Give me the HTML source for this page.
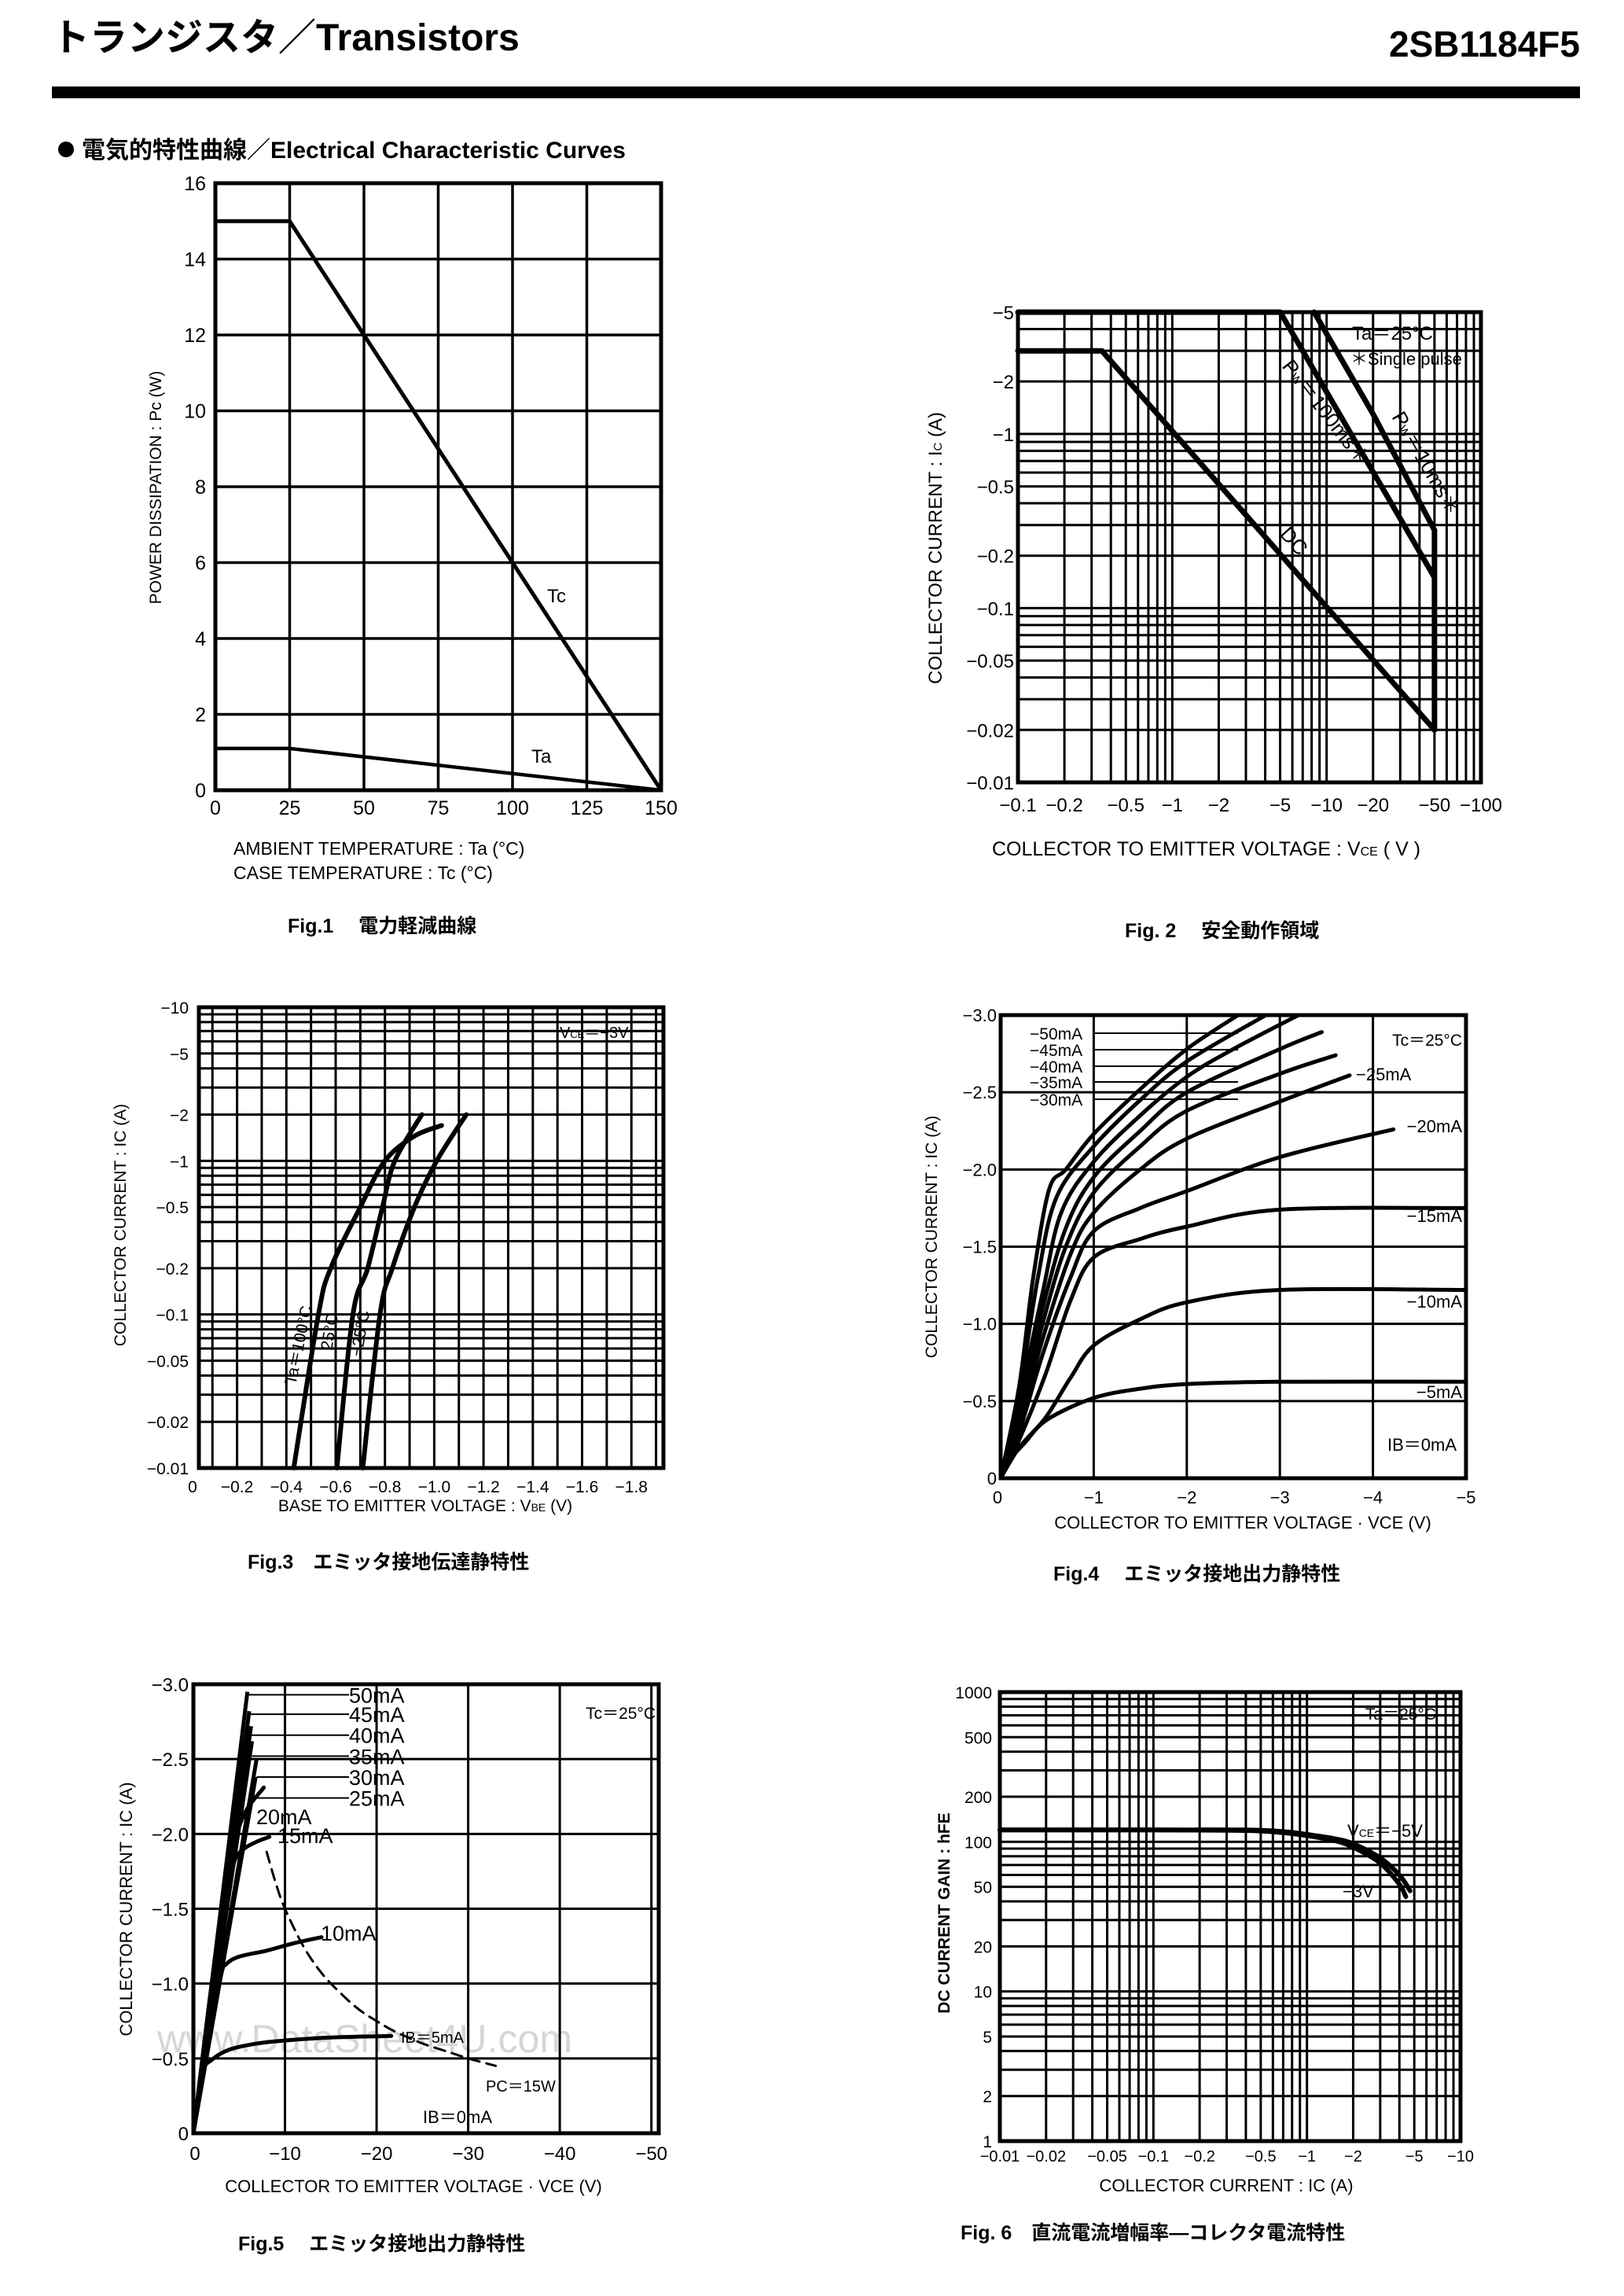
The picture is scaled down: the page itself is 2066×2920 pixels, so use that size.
<!DOCTYPE html>
<html><head><meta charset="utf-8">
<style>
html,body{margin:0;padding:0;background:#fff;}
svg{display:block;}
text{font-family:"Liberation Sans","Noto Sans CJK JP",sans-serif;fill:#000;}
.b{font-weight:bold;}
</style></head>
<body>
<svg id="page" xmlns="http://www.w3.org/2000/svg" width="2066" height="2920" viewBox="0 0 2066 2920">
<rect x="0" y="0" width="2066" height="2920" fill="#fff"/>
<text x="66" y="64" font-size="48" class="b">トランジスタ／Transistors</text>
<text x="2010" y="72" font-size="46" class="b" text-anchor="end">2SB1184F5</text>
<rect x="66" y="110" width="1944" height="15" fill="#000"/>
<circle cx="84" cy="190" r="10" fill="#000"/>
<text x="104" y="201" font-size="30" class="b">電気的特性曲線／Electrical Characteristic Curves</text>

<!-- Fig1 static text -->
<text transform="translate(205,620) rotate(-90)" font-size="21" text-anchor="middle">POWER DISSIPATION : Pc (W)</text>
<text x="297" y="1087" font-size="23">AMBIENT  TEMPERATURE : Ta  (°C)</text>
<text x="297" y="1118" font-size="23">CASE  TEMPERATURE : Tc  (°C)</text>
<text x="366" y="1186" font-size="25" class="b">Fig.1　 電力軽減曲線</text>
<text x="696" y="766" font-size="24">Tc</text>
<text x="676" y="970" font-size="24">Ta</text>

<!-- Fig2 static text -->
<text transform="translate(1198,697) rotate(-90)" font-size="24" text-anchor="middle">COLLECTOR CURRENT : I<tspan font-size="15">C</tspan> (A)</text>
<text x="1262" y="1088" font-size="25">COLLECTOR  TO  EMITTER  VOLTAGE : V<tspan font-size="16">CE</tspan> ( V )</text>
<text x="1431" y="1192" font-size="25" class="b">Fig. 2　 安全動作領域</text>
<rect x="1701" y="400" width="183" height="84" fill="#fff"/>
<text x="1720" y="432" font-size="24">Ta＝25°C</text>
<text x="1718" y="464" font-size="22">＊Single  pulse</text>
<text transform="translate(1630,466) rotate(52)" font-size="26">P<tspan font-size="15">W</tspan>＝100ms＊</text>
<text transform="translate(1770,530) rotate(60)" font-size="26">P<tspan font-size="15">W</tspan>＝10ms＊</text>
<text transform="translate(1627,680) rotate(48)" font-size="26">DC</text>

<!-- Fig3 static text -->
<text transform="translate(160,1558) rotate(-90)" font-size="21" text-anchor="middle">COLLECTOR CURRENT : IC (A)</text>
<text x="541" y="1922" font-size="21" text-anchor="middle">BASE TO EMITTER VOLTAGE : V<tspan font-size="14">BE</tspan> (V)</text>
<text x="315" y="1995" font-size="25" class="b">Fig.3　エミッタ接地伝達静特性</text>
<rect x="706" y="1300" width="116" height="26" fill="#fff"/>
<text x="712" y="1320" font-size="20">V<tspan font-size="13">CE</tspan>＝−3V</text>
<text transform="translate(376,1762) rotate(-78)" font-size="21">Ta＝100°C</text>
<text transform="translate(422,1718) rotate(-80)" font-size="21">25°C</text>
<text transform="translate(460,1726) rotate(-80)" font-size="21">−25°C</text>

<!-- Fig4 static text -->
<text transform="translate(1192,1573) rotate(-90)" font-size="21" text-anchor="middle">COLLECTOR CURRENT : IC (A)</text>
<text x="1581" y="1944" font-size="22" text-anchor="middle">COLLECTOR TO EMITTER VOLTAGE · VCE (V)</text>
<text x="1340" y="2010" font-size="25" class="b">Fig.4　 エミッタ接地出力静特性</text>
<text x="1860" y="1330" font-size="21" text-anchor="end">Tc＝25°C</text>

<!-- Fig5 static text -->
<text transform="translate(168,2428) rotate(-90)" font-size="22" text-anchor="middle">COLLECTOR CURRENT : IC (A)</text>
<text x="526" y="2788" font-size="22" text-anchor="middle">COLLECTOR TO EMITTER VOLTAGE · VCE (V)</text>
<text x="303" y="2862" font-size="25" class="b">Fig.5　 エミッタ接地出力静特性</text>
<text x="834" y="2186" font-size="21" text-anchor="end">Tc＝25°C</text>
<text x="200" y="2610" font-size="50" fill="#d6d6d6" style="fill:#d6d6d6">www.DataSheet4U.com</text>

<!-- Fig6 static text -->
<text transform="translate(1208,2433) rotate(-90)" font-size="21" text-anchor="middle" class="b">DC CURRENT GAIN : hFE</text>
<text x="1560" y="2787" font-size="22" text-anchor="middle">COLLECTOR CURRENT : IC (A)</text>
<text x="1222" y="2848" font-size="25" class="b">Fig. 6　直流電流増幅率―コレクタ電流特性</text>
<rect x="1730" y="2166" width="100" height="24" fill="#fff"/>
<text x="1827" y="2187" font-size="21" text-anchor="end">Ta＝25°C</text>
<text x="1714" y="2336" font-size="22">V<tspan font-size="14">CE</tspan>＝−5V</text>
<text x="1708" y="2413" font-size="22">−3V</text>

<g id="marks"></g>
</svg>
<script>
// ---------- Fig1 data ----------
const fig1YTicks = [0,2,4,6,8,10,12,14,16];
const fig1XTicks = [0,25,50,75,100,125,150];
const fig1Temp = [0,25,150];
const fig1Tc = [15,15,0];
const fig1Ta = [1.1,1.1,0];
// ---------- Fig2 data ----------
const fig2YTicks = [5,2,1,0.5,0.2,0.1,0.05,0.02,0.01];
const fig2XTicks = [0.1,0.2,0.5,1,2,5,10,20,50,100];
const fig2DcV = [0.1,0.35,50];
const fig2DcI = [3,3,0.02];
const fig2P100V = [0.1,5,50];
const fig2P100I = [5,5,0.15];
const fig2P10V = [8.3,20,50];
const fig2P10I = [5,1.3,0.28];
const fig2LimV = [50,50];
const fig2LimI = [0.28,0.02];
// ---------- Fig3 data ----------
const fig3YTicks = [10,5,2,1,0.5,0.2,0.1,0.05,0.02,0.01];
const fig3XTicks = [0,0.2,0.4,0.6,0.8,1.0,1.2,1.4,1.6,1.8];
const fig3V100 = [0.43,0.53,0.58,0.70,0.80,0.92,1.03];
const fig3I100 = [0.01,0.1,0.2,0.5,1,1.45,1.7];
const fig3V25 = [0.605,0.67,0.73,0.79,0.84,0.95];
const fig3I25 = [0.01,0.1,0.2,0.5,1,2];
const fig3Vm25 = [0.71,0.78,0.83,0.92,1.01,1.13];
const fig3Im25 = [0.01,0.1,0.2,0.5,1,2];
// ---------- Fig4 data ----------
const fig4YTicks = [0,0.5,1.0,1.5,2.0,2.5,3.0];
const fig4XTicks = [0,1,2,3,4,5];
const fig4IbLabels = ['5mA','10mA','15mA','20mA','25mA','30mA','35mA','40mA','45mA','50mA'];
const fig4V5 = [0,0.1,0.26,0.5,1,1.5,2,3,5];
const fig4I5 = [0,0.12,0.23,0.38,0.52,0.58,0.61,0.625,0.625];
const fig4V10 = [0,0.2,0.48,0.75,1,1.5,2,3,5];
const fig4I10 = [0,0.2,0.39,0.65,0.86,1.03,1.14,1.22,1.22];
const fig4V15 = [0,0.2,0.48,0.75,1,1.5,2,3,5];
const fig4I15 = [0,0.25,0.67,1.15,1.43,1.55,1.63,1.74,1.75];
const fig4V20 = [0,0.2,0.45,0.75,1,1.5,2,3,4.22];
const fig4I20 = [0,0.3,0.8,1.3,1.6,1.75,1.86,2.08,2.26];
const fig4V25 = [0,0.2,0.45,0.75,1,1.5,2,3,3.75];
const fig4I25 = [0,0.35,0.9,1.45,1.72,2.0,2.2,2.44,2.61];
const fig4V30 = [0,0.2,0.45,0.7,1,1.5,2,3,3.6];
const fig4I30 = [0,0.4,1.0,1.5,1.85,2.15,2.38,2.62,2.74];
const fig4V35 = [0,0.2,0.45,0.7,1,1.5,2,3,3.45];
const fig4I35 = [0,0.45,1.1,1.62,1.95,2.25,2.5,2.78,2.89];
const fig4V40 = [0,0.2,0.45,0.65,1,1.5,2,2.5,3.2];
const fig4I40 = [0,0.5,1.2,1.72,2.05,2.35,2.6,2.78,3.0];
const fig4V45 = [0,0.2,0.4,0.6,1,1.5,2,2.85];
const fig4I45 = [0,0.55,1.3,1.82,2.15,2.45,2.7,3.0];
const fig4V50 = [0,0.2,0.35,0.52,0.7,1,1.5,2,2.55];
const fig4I50 = [0,0.6,1.3,1.87,2.0,2.23,2.52,2.78,3.0];
// ---------- Fig5 data ----------
const fig5YTicks = [0,0.5,1.0,1.5,2.0,2.5,3.0];
const fig5XTicks = [0,10,20,30,40,50];
const fig5V5 = [0,1,2,4,7,10,15,21.6];
const fig5I5 = [0,0.4,0.49,0.56,0.6,0.62,0.64,0.65];
const fig5V10 = [0,1.5,3,3.6,5,8,11,14];
const fig5I10 = [0,0.55,1.05,1.13,1.18,1.22,1.27,1.31];
const fig5V15 = [0,2,3.8,4.5,5.5,7,8.3];
const fig5I15 = [0,0.9,1.6,1.82,1.9,1.95,1.98];
const fig5V20 = [0,2,4,5,6,7.7];
const fig5I20 = [0,1.0,1.85,2.05,2.18,2.31];
const fig5SteepV = [6.8,6.9,6.4,6.3,6.1,5.9];
const fig5SteepI = [2.38,2.5,2.62,2.72,2.82,2.95];
const fig5SteepLabels = ['25mA','30mA','35mA','40mA','45mA','50mA'];
const fig5LabelI = [2.24,2.38,2.52,2.66,2.8,2.93];
const fig5PcV = [8,9,10,12,14,16,18,20,22,25,28,30,33];
const fig5PcI = [1.88,1.67,1.5,1.25,1.07,0.94,0.83,0.75,0.68,0.6,0.54,0.5,0.45];
// ---------- Fig6 data ----------
const fig6YTicks = [1,2,5,10,20,50,100,200,500,1000];
const fig6XTicks = [0.01,0.02,0.05,0.1,0.2,0.5,1,2,5,10];
const fig6Ic5 = [0.01,0.1,0.4,0.7,1,1.5,2,3,4,4.7];
const fig6H5 = [120,120,120,117,112,105,97,78,60,47];
const fig6Ic3 = [0.01,0.1,0.4,0.7,1,1.5,2,3,4,4.4];
const fig6H3 = [120,120,119,115,110,102,92,72,52,43];

const NS = 'http://www.w3.org/2000/svg';
const root = document.getElementById('marks');

function mk(tag, name, parent) {
  const e = document.createElementNS(NS, tag);
  
  
  (parent || root).appendChild(e);
  return e;
}
function linScale(d0, d1, r0, r1) { return v => r0 + (v - d0) / (d1 - d0) * (r1 - r0); }
function logScale(d0, d1, r0, r1) { const a = Math.log10(d0), b = Math.log10(d1); return v => r0 + (Math.log10(v) - a) / (b - a) * (r1 - r0); }
function line(x1, y1, x2, y2, w, name) {
  const l = mk('line', name);
  l.setAttribute('x1', x1); l.setAttribute('y1', y1); l.setAttribute('x2', x2); l.setAttribute('y2', y2);
  l.setAttribute('stroke', '#000'); l.setAttribute('stroke-width', w);
  return l;
}
function txt(x, y, s, size, anchor, name) {
  const t = mk('text', name);
  t.setAttribute('x', x); t.setAttribute('y', y); t.setAttribute('font-size', size);
  t.setAttribute('text-anchor', anchor);
  t.textContent = s;
  return t;
}
function poly(xs, ys, sx, sy, w, name, dash) {
  const p = mk('polyline', name);
  p.setAttribute('points', xs.map((v, i) => sx(v).toFixed(1) + ',' + sy(ys[i]).toFixed(1)).join(' '));
  p.setAttribute('fill', 'none'); p.setAttribute('stroke', '#000'); p.setAttribute('stroke-width', w);
  p.setAttribute('stroke-linejoin', 'round'); p.setAttribute('stroke-linecap', 'round');
  if (dash) p.setAttribute('stroke-dasharray', dash);
  return p;
}
function smooth(xs, ys, sx, sy, w, name, dash) {
  const pts = xs.map((v, i) => [sx(v), sy(ys[i])]);
  let d = 'M' + pts[0][0].toFixed(1) + ',' + pts[0][1].toFixed(1);
  for (let i = 0; i < pts.length - 1; i++) {
    const p0 = pts[i - 1] || pts[i], p1 = pts[i], p2 = pts[i + 1], p3 = pts[i + 2] || p2;
    const c1 = [p1[0] + (p2[0] - p0[0]) / 6, p1[1] + (p2[1] - p0[1]) / 6];
    const c2 = [p2[0] - (p3[0] - p1[0]) / 6, p2[1] - (p3[1] - p1[1]) / 6];
    d += ' C' + c1.map(n => n.toFixed(1)).join(',') + ' ' + c2.map(n => n.toFixed(1)).join(',') + ' ' + p2.map(n => n.toFixed(1)).join(',');
  }
  const p = mk('path', name);
  p.setAttribute('d', d);
  p.setAttribute('fill', 'none'); p.setAttribute('stroke', '#000'); p.setAttribute('stroke-width', w);
  p.setAttribute('stroke-linecap', 'round');
  if (dash) p.setAttribute('stroke-dasharray', dash);
  return p;
}
function frame(L, T, R, B, w, name) {
  const r = mk('rect', name);
  r.setAttribute('x', L); r.setAttribute('y', T); r.setAttribute('width', R - L); r.setAttribute('height', B - T);
  r.setAttribute('fill', 'none'); r.setAttribute('stroke', '#000'); r.setAttribute('stroke-width', w);
}
function logMinors(d0, d1) {
  const out = [];
  for (let e = Math.floor(Math.log10(d0)); e <= Math.ceil(Math.log10(d1)); e++) {
    for (let m = 1; m <= 9; m++) { const v = m * Math.pow(10, e); if (v >= d0 * 0.999 && v <= d1 * 1.001) out.push(v); }
  }
  return out;
}
const neg = v => (v === 0 ? '0' : '−' + v);

// ===== Fig1 =====
(function () {
  const L = 274, R = 841, T = 233, B = 1005;
  const sx = linScale(0, 150, L, R), sy = linScale(0, 16, B, T);
  fig1XTicks.forEach(v => line(sx(v), T, sx(v), B, 3.5, 'fig1-grid-x'));
  fig1YTicks.forEach(v => line(L, sy(v), R, sy(v), 3.5, 'fig1-grid-y'));
  frame(L, T, R, B, 5, 'fig1-plot-frame');
  fig1YTicks.forEach(v => txt(262, sy(v) + 9, String(v), 25, 'end', 'fig1-y-tick-label'));
  fig1XTicks.forEach(v => txt(sx(v), 1036, String(v), 25, 'middle', 'fig1-x-tick-label'));
  poly(fig1Temp, fig1Tc, sx, sy, 5, 'fig1-tc-curve');
  poly(fig1Temp, fig1Ta, sx, sy, 4.5, 'fig1-ta-curve');
})();

// ===== Fig2 =====
(function () {
  const L = 1295, R = 1884, T = 397, B = 995;
  const sx = logScale(0.1, 100, L, R), sy = logScale(0.01, 5, B, T);
  logMinors(0.1, 100).forEach(v => line(sx(v), T, sx(v), B, 3, 'fig2-grid-x'));
  logMinors(0.01, 5).forEach(v => line(L, sy(v), R, sy(v), 3, 'fig2-grid-y'));
  frame(L, T, R, B, 5, 'fig2-plot-frame');
  fig2YTicks.forEach(v => txt(1290, sy(v) + 9, '−' + v, 24, 'end', 'fig2-y-tick-label'));
  fig2XTicks.forEach(v => txt(sx(v), 1032, '−' + v, 24, 'middle', 'fig2-x-tick-label'));
  poly(fig2DcV, fig2DcI, sx, sy, 7, 'fig2-dc-curve');
  poly(fig2P100V, fig2P100I, sx, sy, 7, 'fig2-pw100-curve');
  poly(fig2P10V, fig2P10I, sx, sy, 7, 'fig2-pw10-curve');
  poly(fig2LimV, fig2LimI, sx, sy, 7, 'fig2-vceo-limit');
})();

// ===== Fig3 =====
(function () {
  const L = 253, R = 844, T = 1281, B = 1867;
  const sx = linScale(0.045, 1.93, L, R), sy = logScale(0.01, 10, B, T);
  for (let k = 1; k <= 19; k++) line(sx(k / 10), T, sx(k / 10), B, 3, 'fig3-grid-x');
  logMinors(0.01, 10).forEach(v => line(L, sy(v), R, sy(v), 3, 'fig3-grid-y'));
  frame(L, T, R, B, 5, 'fig3-plot-frame');
  fig3YTicks.forEach(v => txt(240, sy(v) + 8, '−' + v, 21, 'end', 'fig3-y-tick-label'));
  fig3XTicks.forEach(v => txt(v === 0 ? 245 : sx(v), 1898, v === 0 ? '0' : '−' + v.toFixed(1), 21, 'middle', 'fig3-x-tick-label'));
  smooth(fig3V100, fig3I100, sx, sy, 6, 'fig3-ta100-curve');
  smooth(fig3V25, fig3I25, sx, sy, 6, 'fig3-ta25-curve');
  smooth(fig3Vm25, fig3Im25, sx, sy, 6, 'fig3-tam25-curve');
})();

// ===== Fig4 =====
(function () {
  const L = 1273, R = 1865, T = 1291, B = 1880;
  const sx = linScale(0, 5, L, R), sy = linScale(0, 3, B, T);
  fig4XTicks.forEach(v => line(sx(v), T, sx(v), B, 3, 'fig4-grid-x'));
  fig4YTicks.forEach(v => line(L, sy(v), R, sy(v), 3, 'fig4-grid-y'));
  frame(L, T, R, B, 5, 'fig4-plot-frame');
  fig4YTicks.forEach(v => txt(1268, sy(v) + 8, v === 0 ? '0' : '−' + v.toFixed(1), 22, 'end', 'fig4-y-tick-label'));
  fig4XTicks.forEach(v => txt(sx(v) - (v === 0 ? 4 : 0), 1912, neg(v), 22, 'middle', 'fig4-x-tick-label'));
  const series = [[fig4V5, fig4I5], [fig4V10, fig4I10], [fig4V15, fig4I15], [fig4V20, fig4I20], [fig4V25, fig4I25],
    [fig4V30, fig4I30], [fig4V35, fig4I35], [fig4V40, fig4I40], [fig4V45, fig4I45], [fig4V50, fig4I50]];
  series.forEach((s, i) => smooth(s[0], s[1], sx, sy, 5, 'fig4-curve-' + fig4IbLabels[i]));
  const rightLabelY = [1778, 1663, 1554, 1440, 1374];
  for (let i = 0; i < 5; i++) {
    const ex = sx(series[i][0][series[i][0].length - 1]);
    txt(i <= 3 ? 1860 : ex + 8, rightLabelY[i], '−' + fig4IbLabels[i], 22, i <= 3 ? 'end' : 'start', 'fig4-ib-label');
  }
  const leftY = [1399, 1377, 1357, 1336, 1315];
  for (let k = 0; k < 5; k++) {
    txt(1310, leftY[4 - k] + 7, '−' + fig4IbLabels[9 - k], 21, 'start', 'fig4-ib-label');
  }
  [30, 35, 40, 45, 50].forEach((lbl, k) => {
    const yy = leftY[k] - 1;
    line(1393, yy, 1575, yy, 2, 'fig4-label-leader');
  });
  txt(1853, 1845, 'IB＝0mA', 22, 'end', 'fig4-ib0-label');
})();

// ===== Fig5 =====
(function () {
  const L = 246, R = 838, T = 2142, B = 2713;
  const sx = linScale(0, 50.8, L, R), sy = linScale(0, 3, B, T);
  fig5XTicks.forEach(v => line(sx(v), T, sx(v), B, 3, 'fig5-grid-x'));
  fig5YTicks.forEach(v => line(L, sy(v), R, sy(v), 3, 'fig5-grid-y'));
  frame(L, T, R, B, 5, 'fig5-plot-frame');
  fig5YTicks.forEach(v => txt(240, sy(v) + 9, v === 0 ? '0' : '−' + v.toFixed(1), 24, 'end', 'fig5-y-tick-label'));
  fig5XTicks.forEach(v => txt(sx(v) + (v === 0 ? 2 : 0), 2747, neg(v), 24, 'middle', 'fig5-x-tick-label'));
  fig5SteepV.forEach((v, i) => {
    line(sx(0), sy(0), sx(v), sy(fig5SteepI[i]), 5, 'fig5-curve-' + fig5SteepLabels[i]);
    line(sx(v), sy(fig5LabelI[i]), 444, sy(fig5LabelI[i]), 2, 'fig5-label-leader');
    txt(444, sy(fig5LabelI[i]) + 10, fig5SteepLabels[i], 27, 'start', 'fig5-ib-label');
  });
  smooth(fig5V20, fig5I20, sx, sy, 5, 'fig5-curve-20mA');
  smooth(fig5V15, fig5I15, sx, sy, 5, 'fig5-curve-15mA');
  smooth(fig5V10, fig5I10, sx, sy, 5, 'fig5-curve-10mA');
  smooth(fig5V5, fig5I5, sx, sy, 5, 'fig5-curve-5mA');
  smooth(fig5PcV, fig5PcI, sx, sy, 3, 'fig5-pc15w-curve', '14 9');
  txt(326, 2320, '20mA', 27, 'start', 'fig5-ib-label');
  txt(353, 2344, '15mA', 27, 'start', 'fig5-ib-label');
  txt(408, 2468, '10mA', 27, 'start', 'fig5-ib-label');
  txt(510, 2598, 'IB＝5mA', 20, 'start', 'fig5-ib5-label');
  txt(618, 2660, 'PC＝15W', 20, 'start', 'fig5-pc-label');
  txt(538, 2700, 'IB＝0mA', 22, 'start', 'fig5-ib0-label');
})();

// ===== Fig6 =====
(function () {
  const L = 1272, R = 1858, T = 2152, B = 2723;
  const sx = logScale(0.01, 10, L, R), sy = logScale(1, 1000, B, T);
  logMinors(0.01, 10).forEach(v => line(sx(v), T, sx(v), B, 3, 'fig6-grid-x'));
  logMinors(1, 1000).forEach(v => line(L, sy(v), R, sy(v), 3, 'fig6-grid-y'));
  frame(L, T, R, B, 5, 'fig6-plot-frame');
  fig6YTicks.forEach(v => txt(1262, sy(v) + 8, String(v), 21, 'end', 'fig6-y-tick-label'));
  fig6XTicks.forEach(v => txt(sx(v), 2749, '−' + v, 20, 'middle', 'fig6-x-tick-label'));
  smooth(fig6Ic3, fig6H3, sx, sy, 6, 'fig6-vce3-curve');
  smooth(fig6Ic5, fig6H5, sx, sy, 6, 'fig6-vce5-curve');
})();
</script>
</body></html>
